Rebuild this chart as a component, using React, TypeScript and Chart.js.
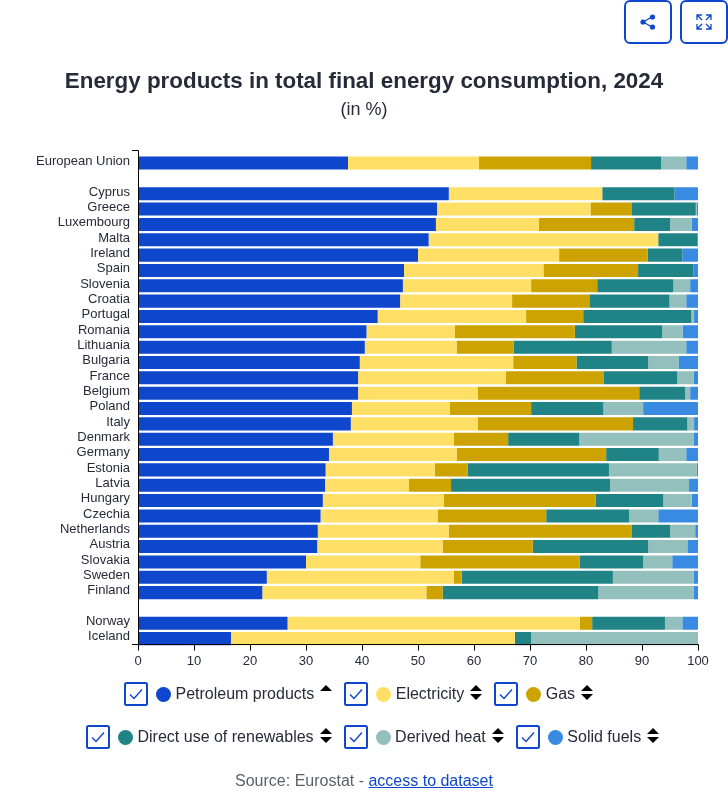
import React, { useRef, useEffect } from "react";
import { Chart, registerables } from "chart.js";

Chart.register(...registerables);

const FONT = '"Liberation Sans", Arial, sans-serif';
const BLUE = "#0E47CB";
const INK = "#262B38";

const countries = [
  "European Union", "", "Cyprus", "Greece", "Luxembourg", "Malta", "Ireland", "Spain",
  "Slovenia", "Croatia", "Portugal", "Romania", "Lithuania", "Bulgaria", "France", "Belgium",
  "Poland", "Italy", "Denmark", "Germany", "Estonia", "Latvia", "Hungary", "Czechia",
  "Netherlands", "Austria", "Slovakia", "Sweden", "Finland", "", "Norway", "Iceland",
];

const petroleum = [37.5, 0, 55.5, 53.4, 53.2, 51.9, 50.0, 47.5, 47.3, 46.8, 42.8, 40.8, 40.5, 39.6, 39.3, 39.3, 38.2, 38.0, 34.8, 34.1, 33.5, 33.4, 33.0, 32.6, 32.1, 32.0, 30.0, 23.0, 22.2, 0, 26.7, 16.6];
const electricity = [23.4, 0, 27.4, 27.4, 18.4, 41.0, 25.2, 24.9, 22.9, 20.0, 26.5, 15.8, 16.4, 27.4, 26.4, 21.4, 17.5, 22.7, 21.6, 22.8, 19.5, 15.0, 21.6, 20.9, 23.4, 22.4, 20.4, 33.4, 29.3, 0, 52.2, 50.7];
const gas = [20.0, 0, 0, 7.3, 17.0, 0, 15.8, 16.9, 11.8, 13.8, 10.2, 21.4, 10.2, 11.3, 17.5, 28.8, 14.5, 27.7, 9.7, 26.7, 5.9, 7.5, 27.1, 19.4, 32.7, 16.1, 28.5, 1.4, 2.9, 0, 2.2, 0];
const renewables = [12.5, 0, 12.9, 11.5, 6.4, 7.0, 6.2, 9.9, 13.6, 14.3, 19.3, 15.6, 17.5, 12.8, 13.1, 8.2, 12.9, 9.7, 12.7, 9.4, 25.2, 28.4, 12.1, 14.8, 6.8, 20.6, 11.3, 27.0, 27.8, 0, 13.0, 2.9];
const derivedHeat = [4.5, 0, 0, 0.2, 3.9, 0, 0, 0, 3.0, 3.0, 0.5, 3.7, 13.3, 5.5, 2.9, 0.9, 7.1, 1.2, 20.4, 4.9, 15.7, 14.1, 5.1, 5.2, 4.5, 7.0, 5.2, 14.4, 17.0, 0, 3.1, 29.8];
const solidFuels = [2.1, 0, 4.2, 0.7, 1.1, 0.1, 2.8, 0.8, 1.4, 2.1, 0.7, 2.7, 2.1, 3.4, 0.8, 1.4, 9.8, 0.7, 0.8, 2.1, 0.2, 1.6, 1.1, 7.1, 0.5, 1.9, 4.6, 0.8, 0.8, 0, 2.8, 0];

const seriesNames = ["Petroleum products", "Electricity", "Gas", "Direct use of renewables", "Derived heat", "Solid fuels"];
const seriesColors = [BLUE, "#FFDF66", "#CCA300", "#208486", "#93BFBD", "#388AE2"];
const seriesValues = [petroleum, electricity, gas, renewables, derivedHeat, solidFuels];

// d3-style axis lines: they sit a little apart from the band scale in the original
const axisLines = {
  id: "axisLines",
  afterDatasetsDraw(chart: any) {
    const { ctx, scales } = chart;
    const x0 = 138.5;
    const top = 150.5;
    const bottom = 644.5;
    ctx.save();
    ctx.strokeStyle = "#000";
    ctx.lineWidth = 1;
    ctx.beginPath();
    ctx.moveTo(132, top);
    ctx.lineTo(x0, top);
    ctx.lineTo(x0, bottom);
    ctx.lineTo(132, bottom);
    ctx.moveTo(x0, bottom);
    ctx.lineTo(698.5, bottom);
    scales.x.ticks.forEach((t: any) => {
      const px = Math.round(scales.x.getPixelForValue(t.value)) + 0.5;
      ctx.moveTo(px, bottom);
      ctx.lineTo(px, bottom + 6);
    });
    ctx.stroke();
    ctx.restore();
  },
};

const CheckBox = () => (
  <svg width="24" height="24" viewBox="0 0 24 24" style={{ flex: "none" }}>
    <rect x="1" y="1" width="22" height="22" rx="1.5" fill="#fff" stroke={BLUE} strokeWidth="2" />
    <path d="M6 12.5 L10 16.5 L18 7.5" fill="none" stroke={BLUE} strokeWidth="1.4" />
  </svg>
);

const SortArrows = ({ upOnly }: { upOnly: boolean }) => (
  <svg width="12" height="16" viewBox="0 0 12 16" style={{ flex: "none", marginLeft: 6, marginTop: -3 }}>
    <path d="M6 0 L12 6 L0 6 Z" fill="#000" />
    {!upOnly && <path d="M6 15 L12 9 L0 9 Z" fill="#000" />}
  </svg>
);

const LegendRow = ({ from, to, left, top }: { from: number; to: number; left: number; top: number }) => (
  <div style={{ position: "absolute", left, top, height: 24, display: "flex", alignItems: "center", whiteSpace: "nowrap" }}>
    {seriesNames.slice(from, to).map((name, i) => (
      <div key={name} style={{ display: "flex", alignItems: "center", marginRight: 12 }}>
        <CheckBox />
        <span style={{ width: 15, height: 15, borderRadius: "50%", background: seriesColors[from + i], margin: "0 4.5px 0 8px", flex: "none" }} />
        <span style={{ fontSize: 16, color: INK, lineHeight: "24px" }}>{name}</span>
        <SortArrows upOnly={from + i === 0} />
      </div>
    ))}
  </div>
);

const IconButton = ({ left, children }: { left: number; children: React.ReactNode }) => (
  <div style={{ position: "absolute", left, top: 0, width: 48, height: 44, boxSizing: "border-box", border: `2px solid ${BLUE}`, borderRadius: 6, background: "#fff", display: "flex", alignItems: "center", justifyContent: "center" }}>
    {children}
  </div>
);

export default function App() {
  const chartRef = useRef<HTMLCanvasElement>(null);

  useEffect(() => {
    if (!chartRef.current) return;
    const chart = new Chart(chartRef.current, {
      type: "bar",
      data: {
        labels: countries,
        datasets: seriesNames.map((name, i) => ({
          label: name,
          data: seriesValues[i],
          backgroundColor: seriesColors[i],
          borderWidth: 0,
          barPercentage: 0.85,
          categoryPercentage: 1,
        })),
      },
      options: {
        indexAxis: "y",
        animation: false,
        responsive: false,
        layout: { padding: { top: 155.4, right: 30, left: 0, bottom: 0 } },
        plugins: { legend: { display: false }, title: { display: false } },
        scales: {
          x: {
            stacked: true,
            min: 0,
            max: 100,
            grid: { display: false },
            border: { display: false },
            ticks: { stepSize: 10, color: INK, padding: -1, maxRotation: 0, font: { family: FONT, size: 13 } },
            afterFit: (scale: any) => {
              scale.height = 160.7;
            },
          },
          y: {
            stacked: true,
            grid: { display: false },
            border: { display: false },
            ticks: { autoSkip: false, color: INK, padding: 0, labelOffset: -1.8, font: { family: FONT, size: 13 } },
            afterFit: (scale: any) => {
              scale.width = 138;
            },
          },
        },
      },
      plugins: [axisLines],
    });
    return () => {
      chart.destroy();
    };
  }, []);

  return (
    <div style={{ position: "absolute", left: 0, top: 0, width: 728, height: 807, fontFamily: FONT, background: "#fff", overflow: "hidden" }}>
      <canvas ref={chartRef} width={728} height={807} style={{ display: "block" }} />
      <IconButton left={624}>
        <svg width="16" height="16" viewBox="0 0 16 16">
          <path d="M3 8 L12 3 M3 8 L12 13" stroke={BLUE} strokeWidth="1.4" />
          <circle cx="3" cy="8" r="2.6" fill={BLUE} />
          <circle cx="12.5" cy="3" r="2.6" fill={BLUE} />
          <circle cx="12.5" cy="13" r="2.6" fill={BLUE} />
        </svg>
      </IconButton>
      <IconButton left={680}>
        <svg width="16" height="16" viewBox="0 0 16 16" fill="none" stroke={BLUE} strokeWidth="1.3">
          <path d="M1 6 V1 H6 M1 1 L6 6 M10 1 H15 V6 M15 1 L10 6 M1 10 V15 H6 M1 15 L6 10 M10 15 H15 V10 M15 15 L10 10" />
        </svg>
      </IconButton>
      <div style={{ position: "absolute", left: 0, width: 728, top: 66, textAlign: "center", fontSize: 22.4, fontWeight: 700, color: INK, lineHeight: "30px" }}>
        Energy products in total final energy consumption, 2024
      </div>
      <div style={{ position: "absolute", left: 0, width: 728, top: 98, textAlign: "center", fontSize: 18, color: INK, lineHeight: "22px" }}>
        (in %)
      </div>
      <LegendRow from={0} to={3} left={124} top={682} />
      <LegendRow from={3} to={6} left={86} top={725} />
      <div style={{ position: "absolute", left: 0, width: 728, top: 771, textAlign: "center", fontSize: 16, color: "#5A5F6B", lineHeight: "20px" }}>
        Source: Eurostat - <a href="#" style={{ color: BLUE }}>access to dataset</a>
      </div>
    </div>
  );
}
